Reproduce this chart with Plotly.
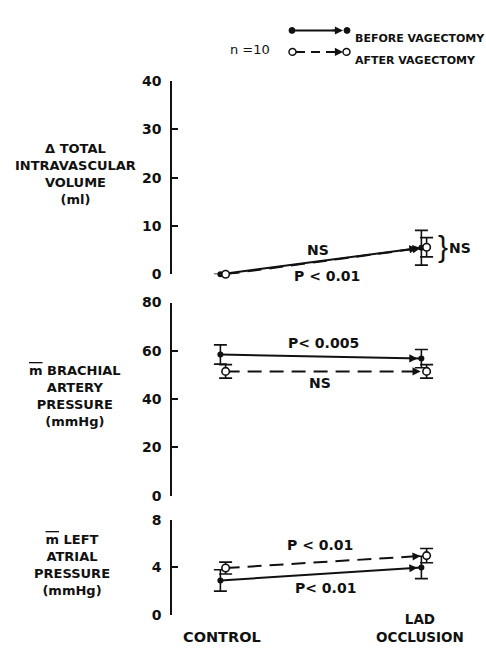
import plotly.graph_objects as go

W, H = 486, 652

# ---------------- data ----------------
conditions = ["CONTROL", "LAD<br>OCCLUSION"]
xpos = [0, 1]

vol_before = [0.0, 5.5]
vol_before_err = [0.0, 3.6]
vol_after = [0.0, 5.6]
vol_after_err = [0.0, 2.0]

bap_before = [58.5, 56.8]
bap_before_err = [4.0, 3.8]
bap_after = [51.5, 51.5]
bap_after_err = [2.8, 2.8]

lap_before = [2.9, 4.0]
lap_before_err = [0.9, 0.95]
lap_after = [3.95, 5.0]
lap_after_err = [0.5, 0.6]

vol_ticks = [0, 10, 20, 30, 40]
bap_ticks = [0, 20, 40, 60, 80]
lap_ticks = [0, 4, 8]

FONT = "DejaVu Sans"
BLACK = "#111111"


def px(x):
    return x / W


def py(y):
    return 1 - y / H


OFF = 0.013
x_before = [v - OFF for v in xpos]
x_after = [v + OFF for v in xpos]

fig = go.Figure()

panels = [
    ("y", vol_before, vol_before_err, vol_after, vol_after_err),
    ("y2", bap_before, bap_before_err, bap_after, bap_after_err),
    ("y3", lap_before, lap_before_err, lap_after, lap_after_err),
]

for yax, b, be, a, ae in panels:
    be_arr = [e if e > 0 else None for e in be]
    ae_arr = [e if e > 0 else None for e in ae]
    fig.add_trace(go.Scatter(
        x=x_before, y=b, yaxis=yax, mode="lines+markers", cliponaxis=False,
        line=dict(color=BLACK, width=2),
        marker=dict(color=BLACK, size=6),
        error_y=dict(type="data", array=be_arr, visible=True, color=BLACK, thickness=1.6, width=6.5),
        showlegend=False, hoverinfo="skip"))
    fig.add_trace(go.Scatter(
        x=x_after, y=a, yaxis=yax, mode="lines+markers", cliponaxis=False,
        line=dict(color=BLACK, width=2, dash="14px,8px"),
        marker=dict(color="white", size=7.5, line=dict(color=BLACK, width=1.6)),
        error_y=dict(type="data", array=ae_arr, visible=True, color=BLACK, thickness=1.6, width=6.5),
        showlegend=False, hoverinfo="skip"))
    # arrowheads
    for xs, ys, so in ((x_before, b, 4), (x_after, a, 6)):
        frac = 0.06
        tail_x = xs[1] - frac * (xs[1] - xs[0])
        tail_y = ys[1] - frac * (ys[1] - ys[0])
        fig.add_annotation(x=xs[1], y=ys[1], ax=tail_x, ay=tail_y, xref="x", yref=yax,
                           axref="x", ayref=yax, showarrow=True, text="",
                           arrowhead=2, arrowsize=0.9, arrowwidth=1.8,
                           arrowcolor=BLACK, standoff=so)

fntb = dict(family=FONT, size=14, color=BLACK)

# p-value labels
labels = [
    ("NS", 318, 248), ("P < 0.01", 327, 275),
    ("P< 0.005", 323, 343), ("NS", 320, 384),
    ("P < 0.01", 320, 550), ("P< 0.01", 325, 595),
    ("NS", 460, 246),
]
for t, x, y in labels:
    fig.add_annotation(x=px(x), y=py(y), xref="paper", yref="paper", text="<b>" + t + "</b>",
                       showarrow=False, font=fntb, xanchor="center", yanchor="middle")
# bracket
fig.add_annotation(x=px(443), y=py(245), xref="paper", yref="paper", text="}",
                   showarrow=False, font=dict(family="Liberation Sans", size=30, color=BLACK),
                   xanchor="center", yanchor="middle")

# y-axis titles
MBAR = '<span style="text-decoration:overline">m</span>'
titles = [
    ("Δ TOTAL<br>INTRAVASCULAR<br>VOLUME<br>(ml)", 75, 170),
    (MBAR + " BRACHIAL<br>ARTERY<br>PRESSURE<br>(mmHg)", 75, 398),
    (MBAR + " LEFT<br>ATRIAL<br>PRESSURE<br>(mmHg)", 72, 571),
]
for t, x, y in titles:
    fig.add_annotation(x=px(x), y=py(y), xref="paper", yref="paper", text="<b>" + t + "</b>",
                       showarrow=False, font=dict(family=FONT, size=13, color=BLACK),
                       xanchor="center", yanchor="middle", align="center")

# x category labels
fcat = dict(family=FONT, size=14.5, color=BLACK)
fig.add_annotation(x=px(222), y=py(645), xref="paper", yref="paper", text="<b>" + conditions[0] + "</b>",
                   showarrow=False, font=fcat, xanchor="center", yanchor="middle")
fig.add_annotation(x=px(420), y=py(636), xref="paper", yref="paper", text="<b>" + conditions[1] + "</b>",
                   showarrow=False, font=dict(family=FONT, size=13.5, color=BLACK),
                   xanchor="center", yanchor="middle", align="center")

# legend
fig.add_annotation(x=px(250), y=py(33), xref="paper", yref="paper", text="n =10",
                   showarrow=False, font=dict(family=FONT, size=13, color=BLACK))
flg = dict(family=FONT, size=11, color=BLACK)
fig.add_annotation(x=px(353), y=py(23), xref="paper", yref="paper", text="<b>BEFORE VAGECTOMY</b>",
                   showarrow=False, font=flg, xanchor="left")
fig.add_annotation(x=px(353), y=py(45), xref="paper", yref="paper", text="<b>AFTER VAGECTOMY</b>",
                   showarrow=False, font=flg, xanchor="left")
shapes = [
    dict(type="line", xref="paper", yref="paper", x0=px(292), x1=px(340), y0=py(23), y1=py(23),
         line=dict(color=BLACK, width=2)),
    dict(type="line", xref="paper", yref="paper", x0=px(296), x1=px(340), y0=py(45), y1=py(45),
         line=dict(color=BLACK, width=2, dash="9px,6px")),
    dict(type="circle", xref="paper", yref="paper", x0=px(289), x1=px(295), y0=py(26), y1=py(20),
         fillcolor=BLACK, line=dict(color=BLACK, width=1)),
    dict(type="circle", xref="paper", yref="paper", x0=px(344), x1=px(350), y0=py(26), y1=py(20),
         fillcolor=BLACK, line=dict(color=BLACK, width=1)),
    dict(type="circle", xref="paper", yref="paper", x0=px(289), x1=px(296), y0=py(48.5), y1=py(41.5),
         fillcolor="white", line=dict(color=BLACK, width=1.5)),
    dict(type="circle", xref="paper", yref="paper", x0=px(343), x1=px(350), y0=py(48.5), y1=py(41.5),
         fillcolor="white", line=dict(color=BLACK, width=1.5)),
]
for yy in (23, 45):
    fig.add_annotation(x=px(343), y=py(yy), xref="paper", yref="paper", ax=-12, ay=0, text="",
                       showarrow=True, arrowhead=2, arrowsize=0.9, arrowwidth=1.8, arrowcolor=BLACK)

axis_common = dict(showline=True, linecolor=BLACK, linewidth=1.6, ticks="inside", ticklen=6,
                   tickwidth=1.6, tickcolor=BLACK, showgrid=False, zeroline=False,
                   tickfont=dict(family=FONT, size=14, color=BLACK, weight="bold"),
                   ticklabelstandoff=6, anchor="x", fixedrange=True)

fig.update_layout(
    width=W, height=H, margin=dict(l=0, r=0, t=0, b=0),
    paper_bgcolor="white", plot_bgcolor="white",
    xaxis=dict(domain=[px(172), px(470)], range=[-51 / 201, 1 + 46 / 201], visible=False,
               anchor="y3"),
    yaxis=dict(domain=[py(273), py(75)], range=[0, 40], tickvals=vol_ticks, **axis_common),
    yaxis2=dict(domain=[py(500), py(302)], range=[0, 80], tickvals=bap_ticks, **axis_common),
    yaxis3=dict(domain=[py(622), py(525)], range=[0, 8], tickvals=lap_ticks, **axis_common),
    shapes=shapes,
    showlegend=False,
)

fig.write_html("out.html")
